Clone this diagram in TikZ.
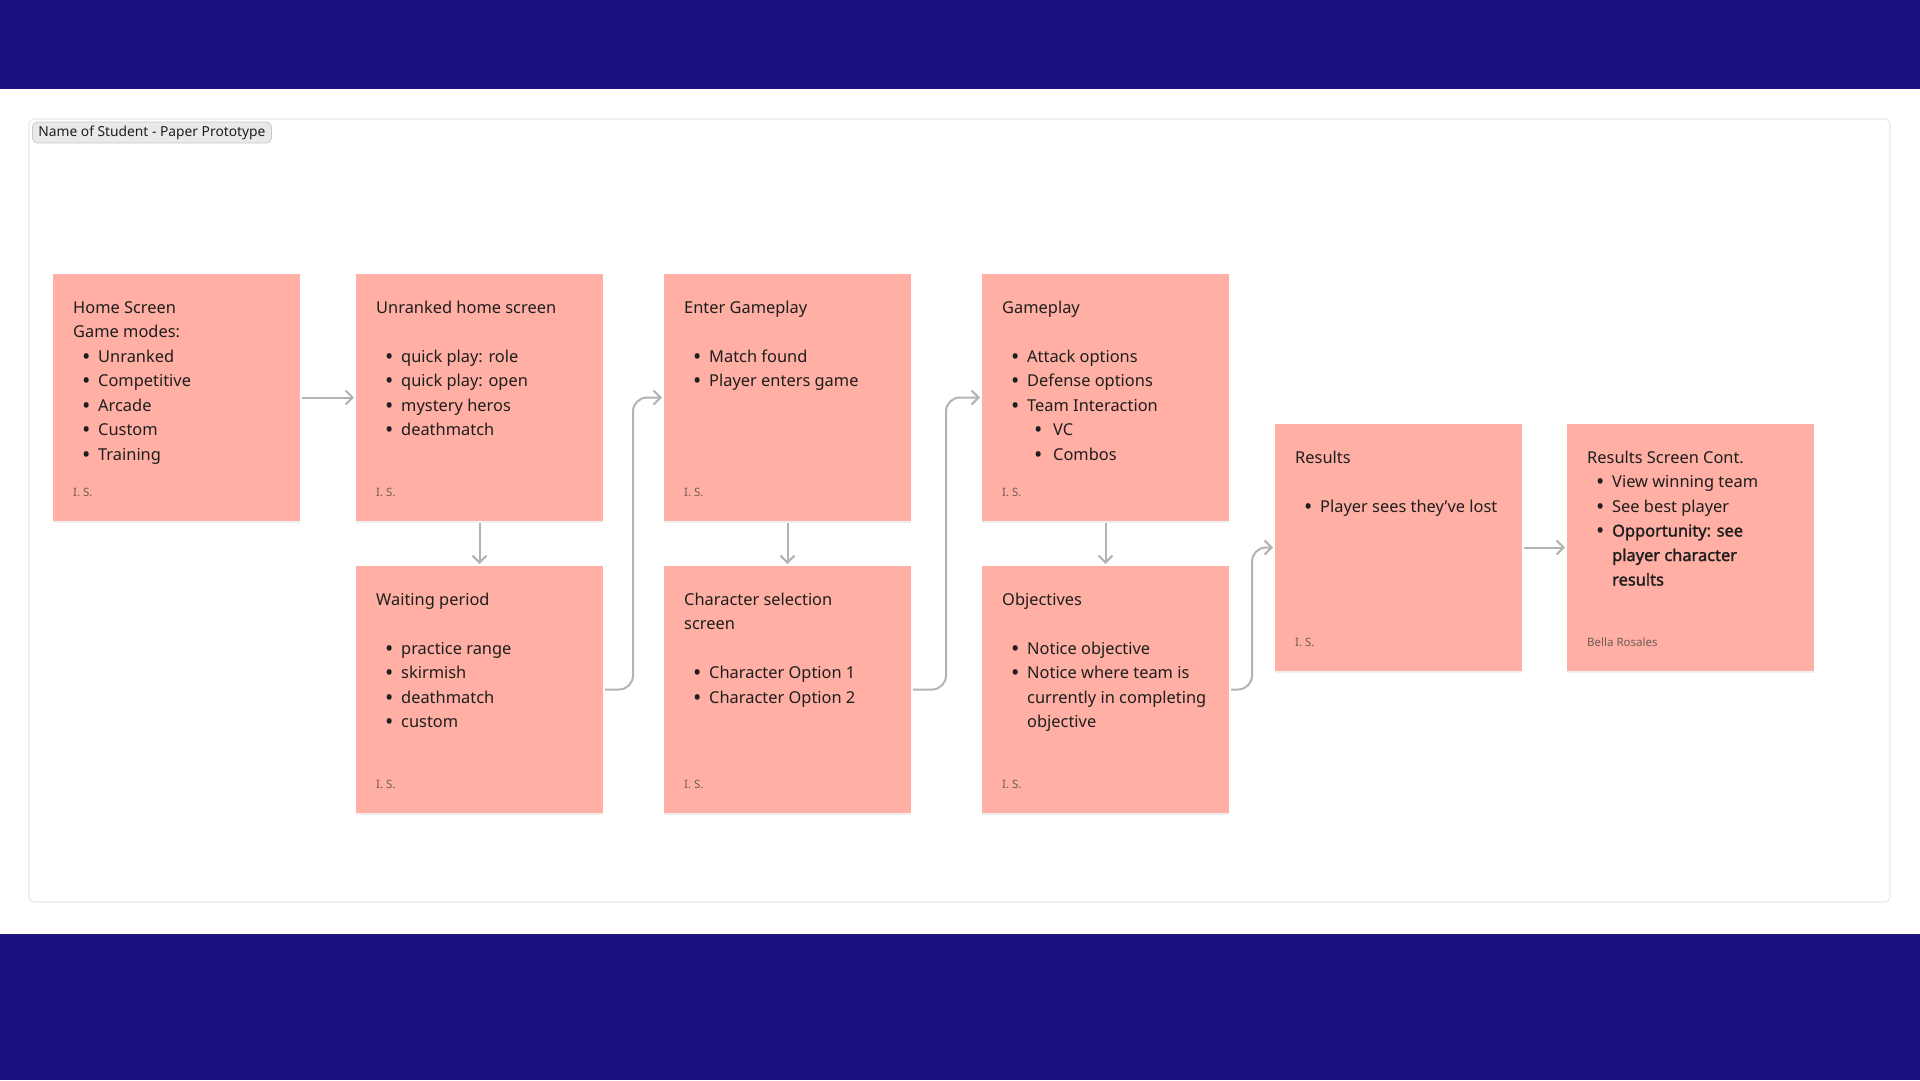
\documentclass[tikz,border=0pt]{standalone}
\usepackage{graphicx}
\usepackage{fontspec}
\setmainfont{Noto Sans}[AutoFakeBold=1.6]
\usetikzlibrary{arrows.meta,shadows}
\definecolor{navy}{HTML}{1B1280}
\definecolor{sticky}{HTML}{FFAFA3}
\definecolor{ink}{HTML}{1E1E1E}
\definecolor{sig}{HTML}{6E5C58}
\definecolor{conncol}{HTML}{B3B3B3}
\definecolor{framec}{HTML}{E8E8E8}
\definecolor{pillfill}{HTML}{E9E9E9}
\definecolor{pilldraw}{HTML}{C9C9C9}

\newcommand\bdot{\raisebox{-2.4pt}{\scalebox{1.35}{•}}}
\newcommand\ttl[1]{\par\noindent #1}
\newcommand\blank{\par\noindent\mbox{}}
\newcommand\bl[1]{\par\noindent\hspace*{9pt}\makebox[16pt][l]{\bdot}#1}
\newcommand\sbl[1]{\par\noindent\hspace*{32pt}\makebox[19pt][l]{\bdot}#1}
\newcommand\cont[1]{\par\noindent\hspace*{25pt}#1}
\newcommand\notebody[1]{\vtop{\hsize=230pt\parindent=0pt\parskip=0pt\fontsize{16.4}{24.5}\selectfont\baselineskip=24.5pt #1\par}}

\tikzset{
  stickynote/.style={anchor=north west, fill=sticky, draw=none, minimum width=247pt, minimum height=247pt, inner sep=0pt, outer sep=0pt,
    drop shadow={shadow xshift=0pt, shadow yshift=-2pt, opacity=0.06, fill=black}},
  notetext/.style={anchor=base west, inner sep=0pt, text=ink},
  sigtext/.style={anchor=base west, inner sep=0pt, text=sig, font=\fontsize{11.5}{13}\selectfont},
  conn/.style={draw=conncol, line width=2pt, -{Straight Barb[length=7pt,width=14pt]}, shorten <=2pt, shorten >=2pt},
  pill/.style={anchor=west, fill=pillfill, draw=pilldraw, line width=0.8pt, rounded corners=5pt, minimum height=21pt, inner xsep=6pt, inner ysep=0pt, text=ink, font=\fontsize{13.8}{15}\selectfont}
}

\begin{document}
\begin{tikzpicture}[x=1pt,y=-1pt]
\useasboundingbox (0,0) rectangle (1920,1080);
\fill[white] (0,0) rectangle (1920,1080);
\fill[navy] (0,0) rectangle (1920,89);
\fill[navy] (0,934) rectangle (1920,1080);
\draw[framec, line width=1.2pt, fill=white, rounded corners=5pt] (29,119) rectangle (1890,902);
\node[pill] (lbl) at (32,132.5) {Name of Student - Paper Prototype};

% sticky notes
\node[stickynote] (n1) at (53,274) {};
\node[stickynote] (n2) at (356,274) {};
\node[stickynote] (n3) at (356,566) {};
\node[stickynote] (n4) at (664,274) {};
\node[stickynote] (n5) at (664,566) {};
\node[stickynote] (n6) at (982,274) {};
\node[stickynote] (n7) at (982,566) {};
\node[stickynote] (n8) at (1275,424) {};
\node[stickynote] (n9) at (1567,424) {};

% texts
\node[notetext] (t1) at ([shift={(20,39)}]n1.north west) {\notebody{\ttl{Home Screen}\ttl{Game modes:}\bl{Unranked}\bl{Competitive}\bl{Arcade}\bl{Custom}\bl{Training}}};
\node[notetext] (t2) at ([shift={(20,39)}]n2.north west) {\notebody{\ttl{Unranked home screen}\blank\bl{quick play: role}\bl{quick play: open}\bl{mystery heros}\bl{deathmatch}}};
\node[notetext] (t3) at ([shift={(20,39)}]n3.north west) {\notebody{\ttl{Waiting period}\blank\bl{practice range}\bl{skirmish}\bl{deathmatch}\bl{custom}}};
\node[notetext] (t4) at ([shift={(20,39)}]n4.north west) {\notebody{\ttl{Enter Gameplay}\blank\bl{Match found}\bl{Player enters game}}};
\node[notetext] (t5) at ([shift={(20,39)}]n5.north west) {\notebody{\ttl{Character selection}\ttl{screen}\blank\bl{Character Option 1}\bl{Character Option 2}}};
\node[notetext] (t6) at ([shift={(20,39)}]n6.north west) {\notebody{\ttl{Gameplay}\blank\bl{Attack options}\bl{Defense options}\bl{Team Interaction}\sbl{VC}\sbl{Combos}}};
\node[notetext] (t7) at ([shift={(20,39)}]n7.north west) {\notebody{\ttl{Objectives}\blank\bl{Notice objective}\bl{Notice where team is}\cont{currently in completing}\cont{objective}}};
\node[notetext] (t8) at ([shift={(20,39)}]n8.north west) {\notebody{\ttl{Results}\blank\bl{Player sees they’ve lost}}};
\node[notetext] (t9) at ([shift={(20,39)}]n9.north west) {\notebody{\ttl{Results Screen Cont.}\bl{View winning team}\bl{See best player}\bl{\textbf{Opportunity: see}}\cont{\textbf{player character}}\cont{\textbf{results}}}};

% signatures
\node[sigtext] (s1) at ([shift={(20,222)}]n1.north west) {I. S.};
\node[sigtext] (s2) at ([shift={(20,222)}]n2.north west) {I. S.};
\node[sigtext] (s3) at ([shift={(20,222)}]n3.north west) {I. S.};
\node[sigtext] (s4) at ([shift={(20,222)}]n4.north west) {I. S.};
\node[sigtext] (s5) at ([shift={(20,222)}]n5.north west) {I. S.};
\node[sigtext] (s6) at ([shift={(20,222)}]n6.north west) {I. S.};
\node[sigtext] (s7) at ([shift={(20,222)}]n7.north west) {I. S.};
\node[sigtext] (s8) at ([shift={(20,222)}]n8.north west) {I. S.};
\node[sigtext] (s9) at ([shift={(20,222)}]n9.north west) {Bella Rosales};

% connectors
\draw[conn] (n1.east) -- (n2.west);
\draw[conn] (n2.south) -- (n3.north);
\draw[conn, rounded corners=14pt] (n3.east) -- ++(30,0) |- (n4.west);
\draw[conn] (n4.south) -- (n5.north);
\draw[conn, rounded corners=14pt] (n5.east) -- ++(35,0) |- (n6.west);
\draw[conn] (n6.south) -- (n7.north);
\draw[conn, rounded corners=14pt] (n7.east) -- ++(23,0) |- (n8.west);
\draw[conn] (n8.east) -- (n9.west);
\end{tikzpicture}
\end{document}
